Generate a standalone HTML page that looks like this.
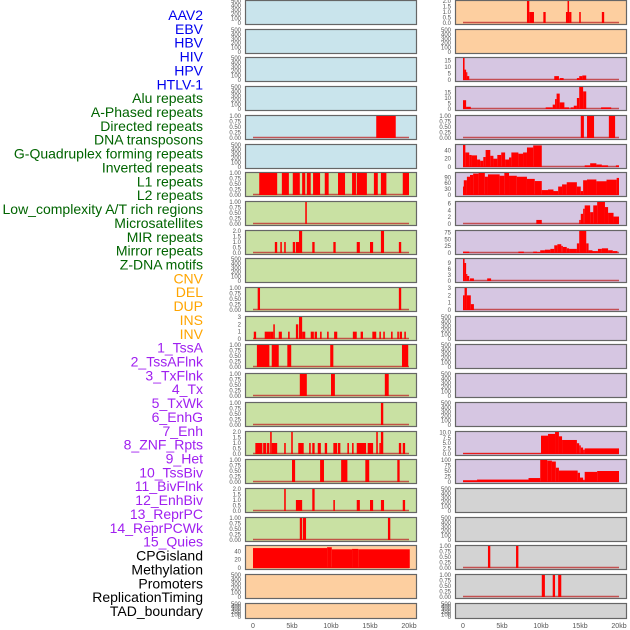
<!DOCTYPE html>
<html><head><meta charset="utf-8"><style>
body{margin:0;background:#fff;width:630px;height:630px;overflow:hidden}
svg{display:block}
text{font-family:"Liberation Sans",sans-serif}
</style></head><body>
<svg id="c" width="630" height="630"></svg>
<script>
const labels=["AAV2","EBV","HBV","HIV","HPV","HTLV-1","Alu repeats","A-Phased repeats","Directed repeats","DNA transposons","G-Quadruplex forming repeats","Inverted repeats","L1 repeats","L2 repeats","Low_complexity A/T rich regions","Microsatellites","MIR repeats","Mirror repeats","Z-DNA motifs","CNV","DEL","DUP","INS","INV","1_TssA","2_TssAFlnk","3_TxFlnk","4_Tx","5_TxWk","6_EnhG","7_Enh","8_ZNF_Rpts","9_Het","10_TssBiv","11_BivFlnk","12_EnhBiv","13_ReprPC","14_ReprPCWk","15_Quies","CPGisland","Methylation","Promoters","ReplicationTiming","TAD_boundary"];
const labelGroups=[0,0,0,0,0,0,1,1,1,1,1,1,1,1,1,1,1,1,1,2,2,2,2,2,3,3,3,3,3,3,3,3,3,3,3,3,3,3,3,4,4,4,4,4];
const groupColors=["#0000ee","#006400","#ffa500","#a020f0","#000000"];
const panelColors=["#c9e4ec","#c9e4ec","#c9e4ec","#c9e4ec","#c9e4ec","#c9e4ec","#c9e1a3","#c9e1a3","#c9e1a3","#c9e1a3","#c9e1a3","#c9e1a3","#c9e1a3","#c9e1a3","#c9e1a3","#c9e1a3","#c9e1a3","#c9e1a3","#c9e1a3","#fdcfa0","#fdcfa0","#fdcfa0",
"#fdcfa0","#fdcfa0","#d6c6e2","#d6c6e2","#d6c6e2","#d6c6e2","#d6c6e2","#d6c6e2","#d6c6e2","#d6c6e2","#d6c6e2","#d6c6e2","#d6c6e2","#d6c6e2","#d6c6e2","#d6c6e2","#d6c6e2","#d3d3d3","#d3d3d3","#d3d3d3","#d3d3d3","#d3d3d3"];
const E=["0","100","200","300","400","500"];
const T1=["0.00","0.25","0.50","0.75","1.00"];
const T2=["0.0","0.5","1.0","1.5","2.0"];
const panelYmax=[500,500,500,500,1,500,1,1,2,500,1,3,1,1,1,2,1,2,1,53,500,500,
2,500,17,20,1,53,112,6.5,80,11,3,500,500,500,500,10.2,100,500,500,1,1,500];
const panelTicks=[E,E,E,E,T1,E,T1,T1,T2,E,T1,["0","1","2","3"],T1,T1,T1,T2,T1,T2,T1,["0","20","40"],E,E,
T2,E,["0","5","10","15"],["0","5","10","15"],T1,["0","20","40"],["0","30","60","90"],["0","2","4","6"],["0","25","50","75"],["0","3","6","9"],["0","1","2","3"],E,E,E,E,["0.0","2.5","5.0","7.5","10.0"],["0","25","50","75","100"],E,E,T1,T1,E];
const panelSegs=[[],[],[],[],[[15.8,18.3,1]],[],
[[0.8,3.1,1],[3.7,4.6,1],[5.1,6.0,1],[6.3,6.7,1],[6.9,7.4,1],[7.7,8.6,1],[9.2,9.7,1],[10.9,11.8,1],[12.7,13.2,1],[13.3,14.6,1],[15.5,16.0,1],[16.4,17.1,1],[19.2,20.0,1]],
[[6.7,6.9,1]],
[[2.8,3.1,1],[3.5,3.7,1],[4.0,4.2,1],[5.1,5.4,1],[5.5,5.9,1],[5.9,6.3,2],[7.6,7.9,1],[10.3,10.6,1],[13.3,13.7,1],[15.0,15.4,1],[16.4,16.8,2],[18.7,19.0,1]],
[],
[[0.6,0.9,1],[18.7,19.0,1]],
[[0.1,0.4,1],[1.5,2.3,1],[2.3,2.6,1],[2.6,2.8,2],[3.3,3.7,1],[4.5,4.7,1],[5.5,5.8,2],[5.9,6.3,3],[6.3,6.7,1],[7.4,7.8,1],[7.9,8.2,1],[8.6,8.8,1],[9.5,9.7,1],[10.4,10.8,1],[12.8,13.3,1],[13.8,14.1,1],[15.3,15.8,1],[16.2,16.4,1],[16.7,16.9,1],[17.7,17.9,1],[18.5,18.7,1],[18.8,19.1,1],[19.4,19.6,1]],
[[0.5,2.1,1],[2.4,3.3,1],[4.4,4.9,1],[9.9,10.3,1],[19.1,19.9,1]],
[[6.0,6.9,1],[10.0,10.5,1],[16.9,17.4,1]],
[[16.4,16.7,1]],
[[0.3,1.2,1],[1.3,1.7,1],[1.8,2.1,1],[2.2,2.4,2],[2.4,3.1,1],[4.0,4.2,1],[4.9,5.1,2],[5.8,6.5,1],[7.2,7.4,1],[7.6,7.9,1],[8.3,8.7,1],[9.2,9.5,1],[10.3,10.8,1],[10.9,11.2,1],[12.1,12.3,1],[12.7,12.9,1],[13.3,14.5,1],[14.7,15.4,1],[15.8,16.0,2],[16.2,16.4,1],[16.4,16.7,2],[18.7,19.0,1],[19.2,19.5,1]],
[[5.0,5.4,1],[8.6,9.1,1],[11.3,12.1,1],[14.4,14.9,1],[18.5,18.8,1]],
[[4.0,4.2,2],[5.5,6.3,1],[7.6,7.9,2],[10.3,10.5,1],[13.3,13.7,1],[15.0,15.4,1],[16.4,16.8,1],[19.2,19.5,1]],
[[6.0,6.3,1],[6.4,6.8,1],[17.3,17.6,1]],
[[0,9.5,48],[9.5,10.1,50],[10.1,12.7,45],[12.7,13.5,46],[13.5,20.1,45]],
[],[],
[[8.2,8.5,2],[8.5,9.1,1],[10.3,10.6,1],[13.2,13.4,1],[13.4,13.6,2],[13.6,13.9,1],[14.9,15.1,1],[17.8,18.1,1]],
[],
[[0,0.2,17],[0.2,0.4,8],[0.4,0.5,6],[0.5,0.8,3],[11.7,12.3,3],[12.4,12.9,1.5],[14.6,14.9,1.5],[14.9,15.3,3],[15.3,15.8,3.5]],
[[0,0.4,8],[0.4,1.0,2],[10.6,11.5,1.5],[11.5,11.8,4],[11.8,12.0,9],[12.0,12.4,14],[12.4,13.0,6],[13.0,13.6,1.5],[13.8,14.2,1.5],[14.2,14.6,3],[14.6,14.9,10],[14.9,15.4,20],[15.4,15.8,16],[17.7,19.0,1.5]],
[[15.1,15.5,1],[15.9,16.8,1],[18.7,19.5,1]],
[[0,0.3,53],[0.3,0.8,35],[0.8,1.1,29],[1.1,1.8,28],[1.8,2.2,18],[2.2,2.6,15],[2.6,2.9,24],[2.9,3.5,41],[3.5,3.9,27],[3.9,4.4,20],[4.4,4.9,29],[4.9,5.4,35],[5.4,5.9,18],[5.9,6.2,23],[6.2,7.1,35],[7.1,7.7,32],[7.7,8.2,35],[8.2,9.0,47],[9.0,10.1,52],[15.6,16.3,4],[16.3,17.1,9],[17.1,17.8,6],[17.8,18.6,4],[19.6,20.0,4]],
[[0,0.1,43],[0.1,0.5,75],[0.5,0.9,93],[0.9,1.3,102],[1.3,2.0,109],[2.0,2.8,112],[2.8,3.2,93],[3.2,4.7,105],[4.7,5.3,98],[5.3,5.9,112],[5.9,6.9,98],[6.9,8.2,93],[8.2,9.2,82],[9.2,10.1,71],[10.1,10.9,25],[10.9,11.6,28],[11.6,12.2,20],[12.2,12.7,43],[12.7,13.3,54],[13.3,14.6,65],[14.6,15.1,43],[15.1,15.4,20],[15.4,15.9,75],[15.9,17.1,79],[17.1,18.4,70],[18.4,19.7,78],[19.7,20.0,87]],
[[9.4,10.1,1.2],[14.9,15.1,1.2],[15.1,15.4,3],[15.4,15.6,4.5],[15.6,16.3,5.5],[16.3,16.7,3.5],[16.7,17.2,5.5],[17.2,18.2,6.5],[18.2,18.6,5],[18.6,19.3,3.3],[19.3,20.0,2.2]],
[[0,0.8,5],[7.1,7.8,5],[9.0,9.5,5],[9.5,9.9,3],[9.9,10.5,10],[10.5,11.2,12],[11.2,11.7,15],[11.7,12.1,28],[12.1,12.6,32],[12.6,12.8,26],[12.8,13.3,22],[13.3,13.6,17],[13.6,14.6,15],[14.6,14.9,35],[14.9,15.8,80],[15.8,16.1,35],[16.1,16.6,10],[16.6,17.3,7],[17.3,17.8,15],[17.8,18.6,17],[18.6,19.2,10],[19.2,19.8,7]],
[[0,0.2,11],[0.2,0.4,9],[0.4,0.5,3.5],[0.5,0.8,2.5],[0.9,1.4,1.3],[3.1,3.6,1.3]],
[[0,0.2,2],[0.2,0.5,3],[0.5,1.0,2],[1.0,1.4,0.8]],
[],[],[],[],
[[0,10,0.3],[10,10.9,8.5],[10.9,11.8,9.3],[11.8,12.3,10.2],[12.3,12.7,8.2],[12.7,14.6,6.5],[14.6,14.9,5],[14.9,15.1,4],[15.1,15.4,3],[15.4,15.6,2],[15.6,20.0,2.6]],
[[0,1.8,8],[1.8,8.4,11],[8.4,9.9,18],[9.9,10.8,100],[10.8,11.4,97],[11.4,11.9,93],[11.9,12.3,65],[12.3,14.7,52],[14.7,15.0,42],[15.0,15.4,20],[15.4,15.6,10],[15.6,17.2,46],[17.2,20.0,50]],
[],[],
[[3.2,3.5,1],[6.8,7.1,1]],
[[10.1,10.5,1],[11.5,11.8,1],[12.2,12.6,1]],
[]];
const xTickLabels=["0","5kb","10kb","15kb","20kb"];
const xTickKb=[0,5,10,15,20];

const NS="http://www.w3.org/2000/svg";
const svg=document.getElementById('c');
function mk(tag,attrs,parent){const e=document.createElementNS(NS,tag);for(const k in attrs)e.setAttribute(k,attrs[k]);(parent||svg).appendChild(e);return e;}
function xs(kb,col){return (col?463:253)+kb*7.8;}
function rowTop(r){return Math.round(r*28.7);}

// labels
labels.forEach((l,i)=>{
  const t=mk('text',{x:203,y:15+i*13.86+5,'text-anchor':'end','font-size':'14',fill:groupColors[labelGroups[i]]});
  t.textContent=l;
  
  
});

for(let p=0;p<44;p++){
  const col=p<22?0:1, r=p%22;
  const top=rowTop(r), h=(r===21)?15:24;
  const x0=col?455:245;
  const g=mk('g',{});
  
  
  const rect=mk('rect',{x:x0+0.5,y:top+0.5,width:171,height:h,fill:panelColors[p],stroke:'#666','stroke-width':1.2},g);
  
  
  const ymax=panelYmax[p], ticks=panelTicks[p], segs=panelSegs[p];
  const base=top+h-1, span=h-2;
  const ys=v=>base-v/ymax*span;
  ticks.forEach((tl,i)=>{
    const v=parseFloat(tl);
    const t=mk('text',{x:x0-4,y:ys(v)+2,'text-anchor':'end','font-size':'6',fill:'#555'},g);
    t.textContent=tl;
    
    
  });
  if(segs.length){
    const bl=mk('line',{x1:xs(0,col),x2:xs(20,col),y1:base-0.5,y2:base-0.5,stroke:'#c03030','stroke-width':1.5,opacity:0.8},g);
    
    
    segs.forEach(s=>{
      const x1=xs(s[0],col),x2=xs(s[1],col),y=ys(s[2]);
      const b=mk('rect',{x:x1,y:y,width:Math.max(1.2,x2-x1),height:base-y,fill:'#ff0000'},g);
      
      
    });
  }
}
[0,1].forEach(col=>{
  xTickLabels.forEach((tl,i)=>{
    const t=mk('text',{x:xs(xTickKb[i],col),y:628,'text-anchor':'middle','font-size':'7',fill:'#555'});
    t.textContent=tl;
    
    
  });
});
</script>
</body></html>
